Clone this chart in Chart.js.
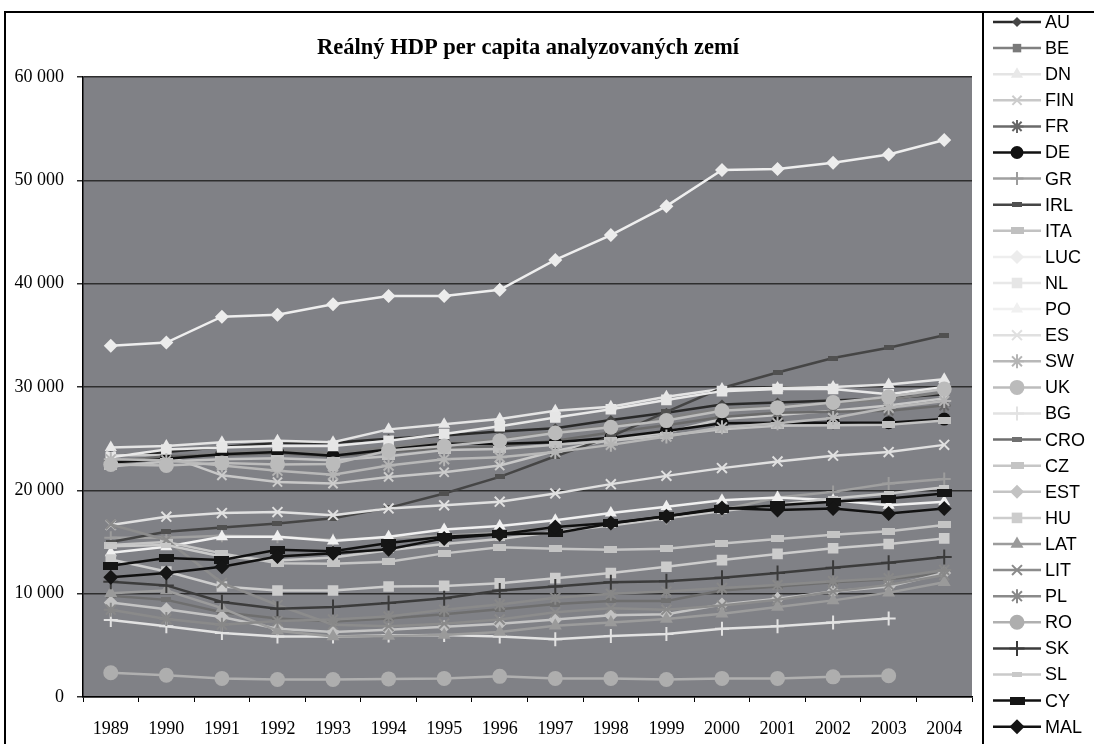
<!DOCTYPE html>
<html lang="cs">
<head>
<meta charset="UTF-8">
<title>Reálný HDP per capita analyzovaných zemí</title>
<script src="https://cdn.jsdelivr.net/npm/chart.js"></script>
<style>
    html, body { margin: 0; padding: 0; background: #fff; }
    #wrap { position: relative; width: 1094px; height: 744px; overflow: hidden; }
</style>
</head>
<body>
<div id="wrap"><canvas id="hdp" width="1094" height="744"></canvas></div>
<script>
// roky
const years = ['1989','1990','1991','1992','1993','1994','1995','1996','1997','1998','1999','2000','2001','2002','2003','2004'];
const yTicks = [0, 10000, 20000, 30000, 40000, 50000, 60000];

// reálný HDP per capita
const AU  = [23300, 23700, 24200, 24600, 24600, 25000, 25300, 25700, 26000, 26800, 27500, 28300, 28500, 28700, 28900, 29300];
const BE  = [22500, 23200, 23600, 23900, 23600, 24200, 24600, 24900, 25700, 26200, 27000, 27900, 28100, 28500, 28800, 29500];
const DN  = [24150, 24300, 24650, 24800, 24650, 25900, 26400, 26900, 27700, 28100, 29050, 29800, 29900, 30000, 30250, 30750];
const FIN = [23400, 23400, 21450, 20800, 20650, 21300, 21750, 22400, 23800, 24900, 25600, 26900, 27300, 27700, 28200, 28900];
const FR  = [22800, 23300, 23400, 23600, 23300, 23700, 24100, 24300, 24800, 25600, 26300, 27100, 27500, 27600, 27700, 28200];
const DE  = [22700, 23050, 23500, 23700, 23350, 23950, 24500, 24500, 24650, 25100, 25750, 26500, 26550, 26550, 26550, 26900];
const GR  = [15400, 15400, 15600, 15500, 15200, 15400, 15600, 15900, 16400, 16800, 17300, 18100, 19300, 19850, 20650, 21100];
const IRL = [15000, 16000, 16400, 16800, 17300, 18300, 19700, 21300, 23300, 25200, 27600, 29900, 31400, 32800, 33800, 35000];
const ITA = [22300, 22800, 23000, 23100, 22900, 23300, 23900, 24000, 24400, 24800, 25300, 25900, 26250, 26300, 26350, 26750];
const LUC = [34000, 34300, 36800, 37000, 38000, 38800, 38800, 39400, 42300, 44700, 47500, 51000, 51100, 51700, 52500, 53900];
const NL  = [23200, 23950, 24150, 24300, 24300, 24800, 25450, 26200, 27050, 27850, 28750, 29600, 29800, 29800, 29300, 30000];
const PO  = [13950, 14550, 15500, 15500, 15100, 15500, 16200, 16550, 17100, 17800, 18400, 19050, 19300, 19050, 18550, 18900];
const ES  = [16650, 17450, 17800, 17900, 17600, 18250, 18550, 18900, 19700, 20600, 21400, 22150, 22800, 23350, 23700, 24400];
const SW  = [23000, 22900, 22400, 21900, 21500, 22400, 23000, 23200, 23700, 24400, 25200, 26100, 26500, 27000, 28000, 28650];
const UK  = [22500, 22400, 22650, 22500, 22550, 23850, 24300, 24800, 25550, 26100, 26750, 27700, 28000, 28500, 29050, 29800];
const BG  = [7450, 6850, 6200, 5850, 5850, 5950, 6000, 5850, 5600, 5900, 6100, 6600, 6850, 7200, 7600, null];
const CRO = [9800, 9400, 8200, 7600, 7300, 7600, 8000, 8500, 9000, 9300, 9300, 10300, 10700, 11100, 11400, 12000];
const CZ  = [14700, 15000, 13900, 12950, 12900, 13100, 13900, 14500, 14350, 14250, 14350, 14850, 15300, 15700, 16050, 16650];
const EST = [9150, 8500, 7750, 6600, 6300, 6500, 6800, 7100, 7500, 7900, 8000, 8950, 9500, 10200, 10700, 12000];
const HU  = [13300, 12150, 10700, 10300, 10300, 10700, 10750, 11000, 11500, 12000, 12600, 13250, 13850, 14400, 14800, 15350];
const LAT = [10050, 10300, 8600, 6400, 5850, 5900, 6000, 6300, 6900, 7200, 7550, 8050, 8700, 9350, 10100, 11100];
const LIT = [16700, 15200, 11050, 8900, 7000, 6850, 7100, 7500, 8200, 8600, 8450, 8850, 9400, 10200, 10850, 11800];
const PL  = [8450, 7550, 7000, 7350, 7500, 7800, 8450, 8950, 9600, 10000, 10200, 10550, 10850, 11200, 11500, 12300];
const RO  = [2350, 2100, 1800, 1700, 1700, 1750, 1800, 2000, 1800, 1800, 1700, 1800, 1800, 1950, 2050, null];
const SK  = [11150, 10800, 9200, 8550, 8700, 9100, 9550, 10300, 10700, 11100, 11200, 11550, 12000, 12500, 13000, 13550];
const SL  = [14600, 14700, 13600, 13200, 13500, 14200, 14800, 15300, 16000, 16600, 17300, 18000, 18600, 19200, 19700, 20300];
const CY  = [12700, 13450, 13250, 14250, 14100, 14900, 15500, 15750, 15850, 16800, 17500, 18200, 18550, 18900, 19200, 19700];
const MAL = [11600, 12000, 12600, 13600, 13900, 14300, 15350, 15750, 16450, 16850, 17500, 18300, 18100, 18250, 17750, 18250];

const countries = ['AU','BE','DN','FIN','FR','DE','GR','IRL','ITA','LUC','NL','PO','ES','SW',
                   'UK','BG','CRO','CZ','EST','HU','LAT','LIT','PL','RO','SK','SL','CY','MAL'];
const series = [AU, BE, DN, FIN, FR, DE, GR, IRL, ITA, LUC, NL, PO, ES, SW,
                UK, BG, CRO, CZ, EST, HU, LAT, LIT, PL, RO, SK, SL, CY, MAL];

// malý obdélníček jako značka
function dash(w, h, col) {
    const c = document.createElement('canvas');
    c.width = w; c.height = h;
    const x = c.getContext('2d');
    x.fillStyle = col;
    x.fillRect(0, 0, w, h);
    return c;
}

// [barva čáry, značka, poloměr, barva značky]
const looks = [
    ['#2a2a2a', 'rectRot', 5, '#454545'],              // AU
    ['#808080', 'rect', 6, '#7a7a7a'],                 // BE
    ['#e4e4e4', 'triangle', 7, '#e8e8e8'],             // DN
    ['#c8c8c8', 'crossRot', 6.5, '#cccccc'],           // FIN
    ['#6a6a6a', 'star', 6.5, '#666666'],               // FR
    ['#111111', 'circle', 6.5, '#111111'],             // DE
    ['#a0a0a0', 'cross', 6.5, '#9c9c9c'],              // GR
    ['#454545', dash(10, 5, '#505050'), 0, '#505050'], // IRL
    ['#c2c2c2', dash(13, 7, '#c0c0c0'), 0, '#c0c0c0'], // ITA
    ['#eeeeee', 'rectRot', 7, '#ececec'],              // LUC
    ['#e8e8e8', 'rect', 7.5, '#e6e6e6'],               // NL
    ['#f0f0f0', 'triangle', 7, '#f0f0f0'],             // PO
    ['#e0e0e0', 'crossRot', 7, '#e0e0e0'],             // ES
    ['#b8b8b8', 'star', 7, '#b4b4b4'],                 // SW
    ['#bcbcbc', 'circle', 7.5, '#bbbbbb'],             // UK
    ['#e2e2e2', 'cross', 7, '#e2e2e2'],                // BG
    ['#6e6e6e', dash(10, 5, '#707070'), 0, '#707070'], // CRO
    ['#c6c6c6', dash(13, 7, '#c4c4c4'), 0, '#c4c4c4'], // CZ
    ['#c4c4c4', 'rectRot', 7, '#c2c2c2'],              // EST
    ['#cdcdcd', 'rect', 7.5, '#cccccc'],               // HU
    ['#9c9c9c', 'triangle', 7.5, '#9a9a9a'],           // LAT
    ['#8c8c8c', 'crossRot', 7, '#8a8a8a'],             // LIT
    ['#8a8a8a', 'star', 7, '#888888'],                 // PL
    ['#b0b0b0', 'circle', 7.5, '#aeaeae'],             // RO
    ['#3c3c3c', 'cross', 7.5, '#3a3a3a'],              // SK
    ['#cacaca', dash(10, 5, '#c8c8c8'), 0, '#c8c8c8'], // SL
    ['#111111', dash(15, 8, '#151515'), 0, '#151515'], // CY
    ['#111111', 'rectRot', 7.5, '#151515']             // MAL
];

const serif = "'Liberation Serif', 'Times New Roman', serif";
const sans = "'Liberation Sans', Arial, sans-serif";
const stroked = s => s === 'cross' || s === 'crossRot' || s === 'star';

const datasets = series.map((d, i) => {
    const [line, ps, r, mc] = looks[i];
    return {
        label: countries[i],
        data: d,
        borderColor: line,
        backgroundColor: mc,
        borderWidth: 2.5,
        pointStyle: ps,
        pointRadius: r || 6,
        pointBackgroundColor: mc,
        pointBorderColor: mc,
        pointBorderWidth: stroked(ps) ? 2 : 0,
        tension: 0,
        spanGaps: false,
        order: series.length - i
    };
});

const frame = {
    id: 'frame',
    beforeDraw(chart) {
        const { ctx, chartArea: a } = chart;
        ctx.save();
        ctx.fillStyle = '#808186';
        ctx.fillRect(a.left, a.top, a.right - a.left, a.bottom - a.top);
        ctx.restore();
    },
    afterDraw(chart) {
        const ctx = chart.ctx;
        ctx.save();
        // rámečky
        ctx.strokeStyle = '#000';
        ctx.lineWidth = 2;
        ctx.beginPath();
        ctx.moveTo(5, 744); ctx.lineTo(5, 12); ctx.lineTo(1094, 12);
        ctx.moveTo(983, 12); ctx.lineTo(983, 744);
        ctx.stroke();

        // titulek
        ctx.fillStyle = '#000';
        ctx.font = 'bold 22.5px ' + serif;
        ctx.textAlign = 'center';
        ctx.textBaseline = 'middle';
        ctx.fillText('Reálný HDP per capita analyzovaných zemí', 528, 48);

        // legenda
        ctx.font = '18px ' + sans;
        ctx.textAlign = 'left';
        chart.data.datasets.forEach((ds, i) => {
            const y = 22 + i * 26.1;
            ctx.strokeStyle = ds.borderColor;
            ctx.lineWidth = 2.5;
            ctx.beginPath();
            ctx.moveTo(993, y); ctx.lineTo(1041, y);
            ctx.stroke();
            ctx.fillStyle = ds.pointBackgroundColor;
            ctx.strokeStyle = ds.pointBorderColor;
            ctx.lineWidth = ds.pointBorderWidth;
            Chart.helpers.drawPoint(ctx, {
                pointStyle: ds.pointStyle,
                rotation: 0,
                radius: ds.pointRadius,
                borderWidth: ds.pointBorderWidth
            }, 1017, y);
            ctx.fillStyle = '#000';
            ctx.fillText(ds.label, 1045, y + 1);
        });
        ctx.restore();
    }
};

new Chart(document.getElementById('hdp'), {
    type: 'line',
    data: { labels: years, datasets: datasets },
    options: {
        responsive: false,
        animation: false,
        layout: { padding: { top: 77, right: 122, left: 0, bottom: 0 } },
        plugins: {
            legend: { display: false },
            tooltip: { enabled: false },
            title: { display: false }
        },
        scales: {
            x: {
                type: 'category',
                offset: true,
                grid: { drawOnChartArea: false, offset: true, color: '#000', tickLength: 5, lineWidth: 1 },
                border: { color: '#000', width: 1.5 },
                ticks: { color: '#000', font: { family: serif, size: 18 }, padding: 16, maxRotation: 0, autoSkip: false },
                afterFit(s) { s.height = 47; }
            },
            y: {
                min: 0,
                max: 60000,
                afterBuildTicks(s) { s.ticks = yTicks.map(v => ({ value: v })); },
                grid: { color: '#2e2e2e', lineWidth: 1.5, tickLength: 6 },
                border: { color: '#000', width: 1.5 },
                ticks: {
                    color: '#000',
                    font: { family: serif, size: 18 },
                    padding: 13,
                    callback: v => String(v).replace(/\B(?=(\d{3})+(?!\d))/g, ' ')
                },
                afterFit(s) { s.width = 83; }
            }
        }
    },
    plugins: [frame]
});
</script>
</body>
</html>
